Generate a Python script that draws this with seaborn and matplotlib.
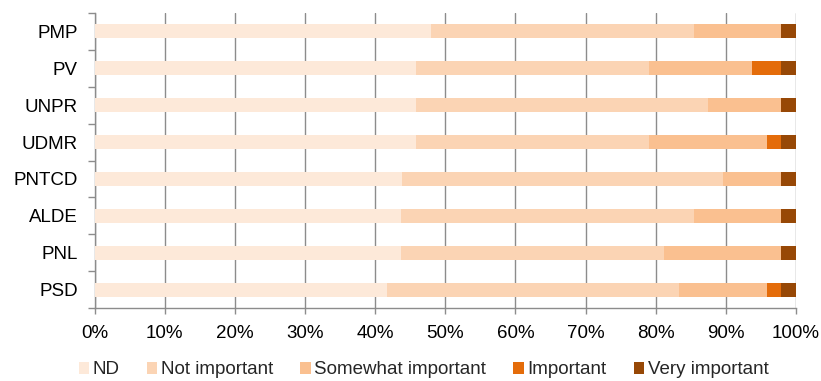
import numpy as np
import pandas as pd
import matplotlib
matplotlib.use("Agg")
import matplotlib.pyplot as plt
import seaborn as sns
from matplotlib.patches import Patch

parties = ["PMP", "PV", "UNPR", "UDMR", "PNTCD", "ALDE", "PNL", "PSD"]
series_names = ["ND", "Not important", "Somewhat important", "Important", "Very important"]
nd = [47.9, 45.8, 45.8, 45.8, 43.75, 43.75, 43.75, 41.7]
not_important = [37.5, 33.3, 41.7, 33.3, 45.8, 41.7, 37.5, 41.7]
somewhat_important = [12.5, 14.6, 10.4, 16.7, 8.3, 12.5, 16.7, 12.5]
important = [0.0, 4.2, 0.0, 2.1, 0.0, 0.0, 0.0, 2.1]
very_important = [2.1, 2.1, 2.1, 2.1, 2.1, 2.1, 2.1, 2.1]
x_ticks = [0, 10, 20, 30, 40, 50, 60, 70, 80, 90, 100]
x_tick_labels = ["0%", "10%", "20%", "30%", "40%", "50%", "60%", "70%", "80%", "90%", "100%"]
colors = ["#FDE9D9", "#FBD4B4", "#FAC090", "#E46C0A", "#974806"]

sns.set_theme(style="white")
plt.rcParams["font.family"] = ["Liberation Sans", "DejaVu Sans"]

vals = np.array([nd, not_important, somewhat_important, important, very_important])
totals = vals.sum(axis=0)
pct = vals / totals * 100.0
cum = np.cumsum(pct, axis=0)

fig = plt.figure(figsize=(8.21, 3.81), dpi=100)
ax = fig.add_axes([94.5 / 821, 1 - 308.3 / 381, (796 - 94.5) / 821, (308.3 - 12.7) / 381])

for i in range(len(series_names) - 1, -1, -1):
    df = pd.DataFrame({"party": parties, "value": cum[i]})
    sns.barplot(data=df, x="value", y="party", orient="h", color=colors[i],
                width=0.39, saturation=1, ax=ax, zorder=3, linewidth=0)

gray = "#8C8C8C"
ax.set_xlim(0, 100)
ax.set_ylim(7.5, -0.5)
ax.set_xticks(x_ticks)
ax.set_xticklabels(x_tick_labels)
ax.set_xlabel("")
ax.set_ylabel("")
ax.grid(axis="x", color=gray, linewidth=1.0, zorder=0)
ax.grid(axis="y", visible=False)
ax.set_axisbelow(True)

for s in ["top", "right"]:
    ax.spines[s].set_visible(False)
for s in ["left", "bottom"]:
    ax.spines[s].set_color(gray)
    ax.spines[s].set_linewidth(1.0)

ax.set_yticks(np.arange(-0.5, 8.0, 1.0), minor=True)
ax.tick_params(axis="y", which="major", length=0, labelsize=13.5, pad=12, colors="black")
ax.tick_params(axis="y", which="minor", length=5, width=1, color=gray, direction="out", left=True)
ax.tick_params(axis="x", which="major", length=4, width=1, color=gray, direction="out",
               bottom=True, labelsize=13.5, pad=8, labelcolor="black")

handles = [Patch(facecolor=c, edgecolor="none") for c in colors]
fig.legend(handles, series_names, loc="center", bbox_to_anchor=(0.516, 1 - 370 / 381), ncol=5,
           frameon=False, fontsize=13.5, handlelength=0.55, handleheight=0.55,
           handletextpad=0.2, columnspacing=1.45, borderaxespad=0)

fig.savefig("out.png", dpi=100)
